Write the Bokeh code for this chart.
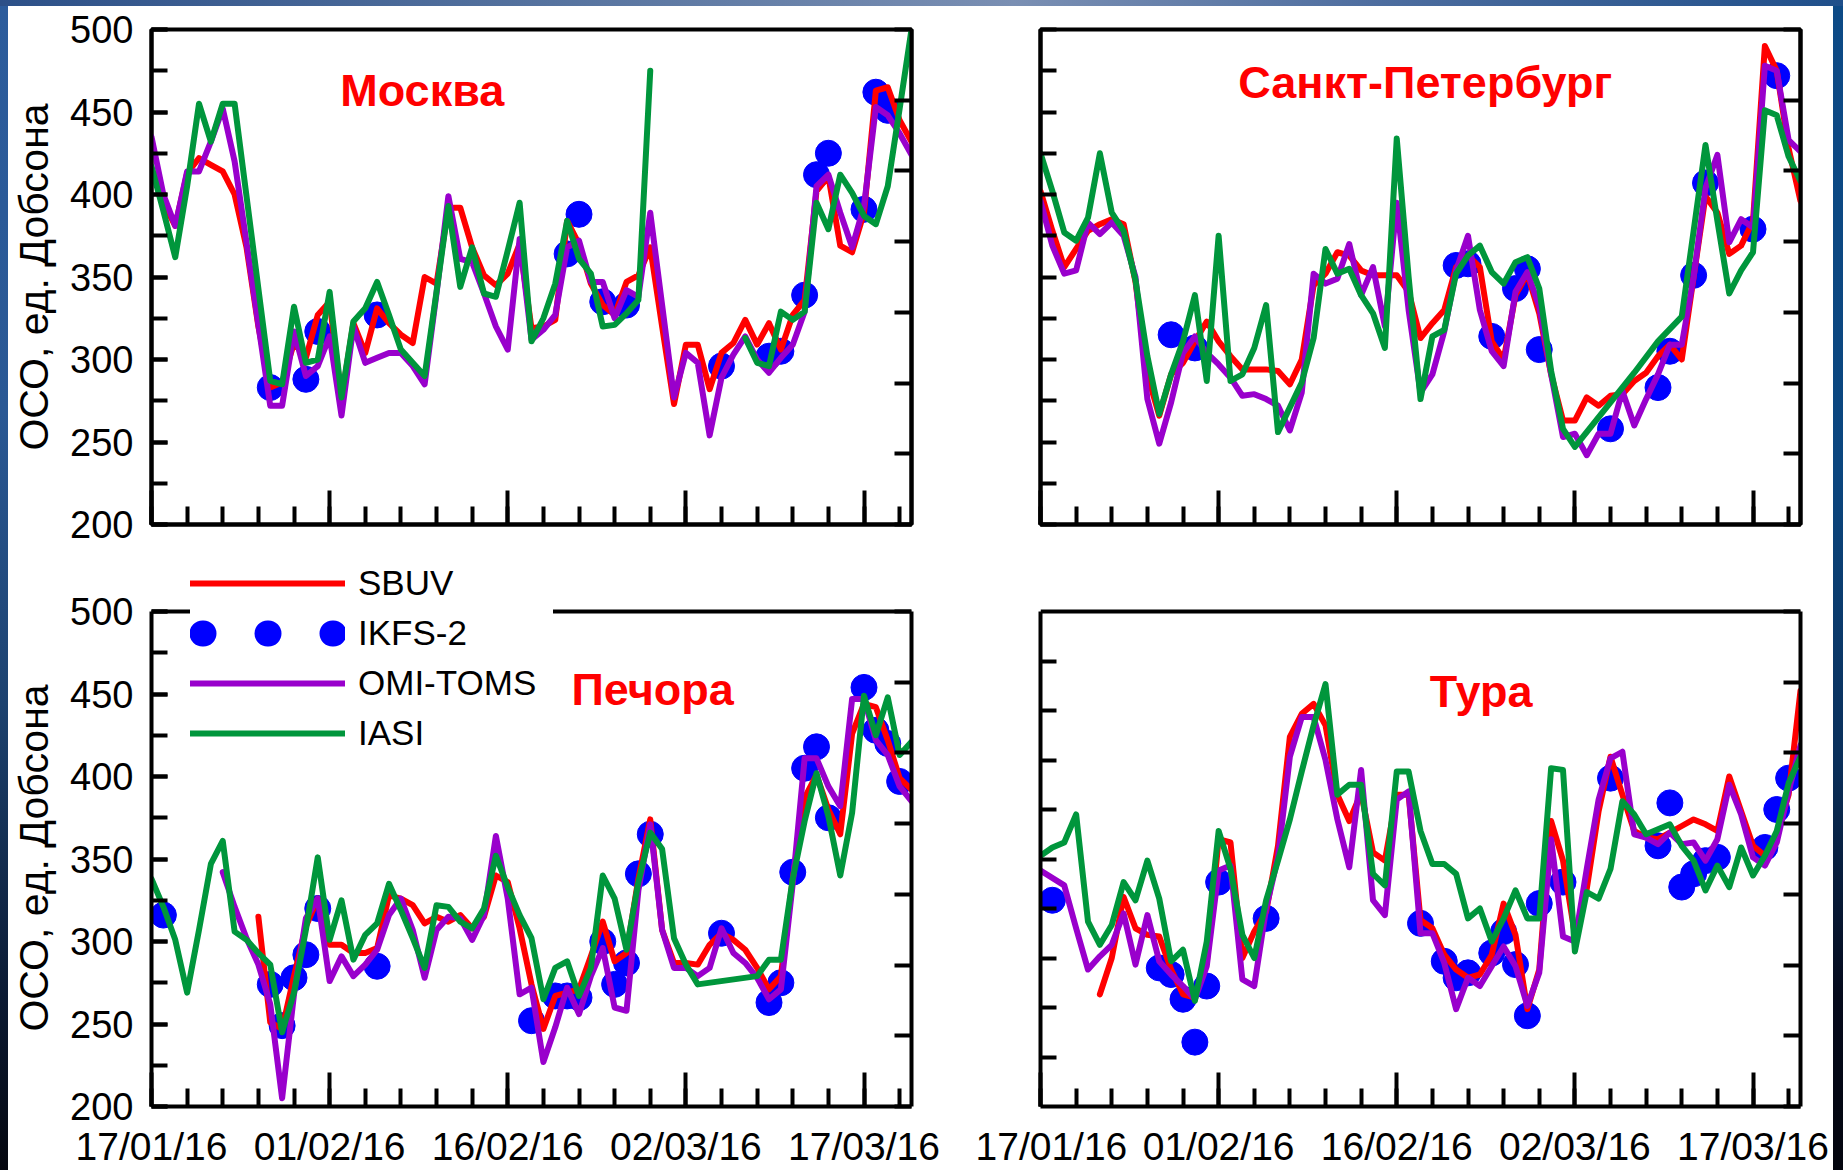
import datetime as dt

from bokeh.embed import file_html
from bokeh.layouts import column, row
from bokeh.models import (DatetimeTickFormatter, FixedTicker, Label, Legend,
                          LegendItem, LinearAxis, Range1d, SingleIntervalTicker,
                          Spacer, Span)
from bokeh.plotting import figure
from bokeh.resources import INLINE

NAN = float("nan")

# ---------------------------------------------------------------- data ----
START = dt.datetime(2016, 1, 17)
END = dt.datetime(2016, 3, 21)

tick_dates = ["2016-01-17", "2016-02-01", "2016-02-16", "2016-03-02", "2016-03-17"]
minor_tick_days = list(range(0, 64, 3))
tura_left_ticks = [230, 260, 290, 320, 350, 380, 410, 440, 470]
y_title = "ОСО, ед. Добсона"
series_names = ["SBUV", "IKFS-2", "OMI-TOMS", "IASI"]

# Москва
msk_sbuv_day = list(range(0, 65))
msk_sbuv = [416, 395, 381, 413, 422, 418, 414, 400, 368, 320,
            283, 286, 310, 301, 327, 335, 276, 322, 304, 331,
            322, 315, 310, 350, 346, 392, 392, 368, 351, 345,
            352, 370, 319, 320, 324, 384, 370, 346, 333, 327,
            347, 351, 368, 320, 273, 309, 309, 282, 304, 310,
            324, 309, 322, 306, 327, 336, 402, 411, 369, 365,
            389, 463, 465, 445, 432]
msk_omi_day = list(range(0, 65))
msk_omi = [435, 400, 381, 414, 414, 432, 452, 420, 371, 321,
           272, 272, 317, 290, 296, 314, 266, 320, 298, 301,
           304, 304, 296, 285, 340, 399, 361, 359, 340, 320,
           306, 373, 312, 318, 327, 368, 372, 347, 347, 325,
           342, 338, 389, 333, 277, 304, 298, 254, 289, 303,
           314, 300, 292, 301, 309, 329, 405, 412, 389, 368,
           393, 453, 448, 437, 424]
# IASI has no retrievals over Moscow between 28/02 and 07/03 (NaN breaks the line)
msk_iasi_day = list(range(0, 43)) + [46] + list(range(50, 65))
msk_iasi = [417, 390, 362, 405, 455, 432, 455, 455, 399, 343,
            287, 285, 332, 298, 300, 341, 277, 323, 331, 347,
            327, 306, 298, 290, 341, 393, 344, 368, 340, 338,
            366, 395, 311, 325, 346, 384, 361, 352, 320, 321,
            328, 336, 475,
            NAN,
            313, 298, 296, 329, 324, 329, 395, 379, 412, 401,
            387, 382, 405, 452, 500]
msk_ikfs_day = [10, 13, 14, 19, 35, 36, 38, 40, 48, 52, 53, 55, 56, 57, 60, 61, 62]
msk_ikfs = [283, 288, 317, 327, 364, 388, 335, 333, 296, 302, 305, 339, 412, 425, 391, 462, 451]

# Санкт-Петербург
spb_sbuv_day = list(range(0, 65))
spb_sbuv = [402, 378, 356, 367, 378, 382, 385, 382, 347, 291,
            266, 291, 298, 311, 323, 311, 302, 294, 294, 294,
            293, 285, 300, 345, 352, 365, 363, 354, 351, 351,
            351, 341, 313, 322, 330, 356, 363, 356, 311, 300,
            339, 352, 328, 291, 263, 263, 277, 272, 278, 279,
            287, 292, 302, 309, 300, 350, 399, 389, 364, 369,
            384, 490, 475, 428, 396]
spb_omi_day = list(range(0, 65))
spb_omi = [396, 369, 352, 354, 383, 376, 383, 375, 350, 276,
           249, 274, 304, 314, 304, 297, 289, 278, 279, 276,
           272, 257, 280, 352, 346, 349, 370, 339, 356, 320,
           395, 330, 280, 291, 317, 354, 375, 330, 305, 296,
           341, 353, 332, 291, 253, 255, 242, 255, 255, 281,
           260, 276, 291, 309, 309, 350, 404, 424, 371, 385,
           380, 478, 475, 433, 426]
spb_iasi_day = list(range(0, 46)) + [48, 50, 52, 54, 55, 56, 57, 58, 59, 60, 61, 62, 63, 64]
spb_iasi = [425, 402, 377, 372, 386, 425, 389, 378, 348, 302,
            267, 291, 311, 339, 287, 375, 287, 291, 307, 333,
            256, 271, 286, 313, 367, 352, 355, 339, 328, 307,
            434, 350, 276, 314, 318, 352, 363, 369, 353, 346,
            359, 362, 343, 293, 258, 247,
            274, 292, 311, 326, 378, 430, 384, 340, 354, 365,
            451, 448, 423, 408]
spb_ikfs_day = [11, 13, 35, 36, 38, 40, 41, 42, 48, 52, 53, 55, 56, 60, 62]
spb_ikfs = [315, 307, 357, 358, 314, 343, 355, 306, 258, 283, 305, 351, 407, 379, 472]

# Печора
pch_sbuv_day = list(range(9, 65))
pch_sbuv = [315, 251, 247, 279, 309, 326, 298, 298, 293, 293,
            296, 328, 326, 322, 311, 315, 312, 316, 308, 315,
            340, 336, 308, 274, 247, 267, 269, 271, 291, 312,
            288, 293, 338, 374, 307, 287, 287, 286, 298, 305,
            301, 295, 284, 271, 279, 338, 387, 401, 380, 365,
            426, 444, 442, 422, 399, 392]
pch_omi_day = list(range(6, 65))
pch_omi = [342, 321, 302, 286, 262, 205, 268, 314, 326, 276,
           291, 279, 286, 295, 316, 326, 307, 278, 307, 315,
           314, 301, 316, 364, 326, 268, 272, 227, 248, 272,
           256, 279, 296, 260, 258, 331, 371, 307, 284, 284,
           279, 284, 308, 293, 287, 278, 265, 271, 335, 411,
           411, 394, 382, 447, 447, 422, 413, 394, 385]
pch_iasi_day = list(range(0, 47)) + list(range(51, 65))
pch_iasi = [338, 321, 301, 269, 307, 347, 361, 306, 301, 293,
            286, 245, 269, 307, 351, 301, 325, 289, 304, 311,
            335, 319, 302, 284, 322, 321, 312, 308, 320, 352,
            333, 316, 302, 265, 284, 288, 267, 284, 340, 326,
            295, 336, 366, 356, 302, 286, 274,
            279, 289, 289, 338, 373, 402, 376, 340, 378, 449,
            425, 448, 413, 421]
pch_ikfs_day = [1, 10, 11, 12, 13, 14, 19, 32, 34, 35, 36, 38, 39, 40, 41, 42,
                48, 52, 53, 54, 55, 56, 57, 60, 61, 62, 63]
pch_ikfs = [316, 274, 249, 278, 292, 320, 285, 252, 267, 267, 266, 300, 274, 287, 341, 365,
            305, 263, 275, 342, 405, 418, 375, 454, 428, 420, 397]

# Тура
tur_sbuv_day = list(range(5, 65))
tur_sbuv = [268, 290, 327, 308, 304, 303, 283, 268, 266, 287,
            362, 360, 290, 306, 318, 358, 424, 438, 444, 431,
            389, 373, 390, 354, 349, 389, 389, 313, 308, 292,
            283, 278, 280, 292, 323, 304, 259, 283, 373, 349,
            304, 332, 379, 412, 389, 367, 363, 362, 366, 370,
            374, 371, 367, 400, 379, 358, 352, 365, 389, 452]
tur_omi_day = [0] + list(range(2, 65))
tur_omi = [343,
           334, 308, 283, 291, 298, 317, 286, 316, 288, 280,
           273, 265, 285, 343, 346, 277, 273, 320, 351, 412,
           436, 436, 410, 374, 345, 404, 325, 316, 386, 391,
           305, 305, 287, 259, 278, 273, 285, 297, 285, 261,
           281, 362, 303, 300, 344, 386, 411, 415, 365, 363,
           359, 366, 359, 360, 349, 362, 395, 377, 351, 346,
           360, 391, 419]
tur_iasi_day = list(range(0, 65))
tur_iasi = [352, 357, 360, 377, 312, 298, 310, 336, 325, 349,
            326, 288, 295, 264, 300, 367, 344, 304, 290, 325,
            349, 374, 403, 431, 456, 389, 395, 395, 341, 334,
            403, 403, 367, 347, 347, 341, 314, 320, 300, 314,
            331, 314, 314, 405, 404, 294, 330, 326, 344, 385,
            377, 365, 368, 371, 358, 349, 331, 346, 333, 357,
            340, 352, 367, 396, 412]
tur_ikfs_day = [1, 10, 11, 12, 13, 14, 15, 19, 32, 34, 35, 36, 38, 39, 40, 41, 42, 44,
                48, 52, 53, 54, 55, 56, 57, 61, 62, 63]
tur_ikfs = [325, 284, 280, 265, 239, 273, 336, 314, 311, 288, 278, 281, 293, 306, 286, 255, 323, 336,
            399, 358, 384, 333, 341, 349, 351, 357, 380, 399]

# --------------------------------------------------------------- style ----
FONT = "Liberation Sans"
RED = "#ff0000"
BLUE = "#0000ff"
PURPLE = "#9900cc"
GREEN = "#00963c"
LINE_W = 6
PLOT_H = 495          # pixel height of the 200..500 band in every panel


def to_dates(days):
    return [START + dt.timedelta(days=float(d)) for d in days]


def date_ms(d):
    return (d - dt.datetime(1970, 1, 1)).total_seconds() * 1000.0


def hide_labels(ax):
    ax.major_label_text_font_size = "0px"
    ax.major_label_text_color = None
    ax.major_label_standoff = 0


def make_panel(width, height, borders, tura_ticks, show_y, show_x,
               title, title_day, title_val, sbuv, omi, iasi, ikfs, extra_top=0):
    """One station panel.  extra_top adds free frame space above 500 (used for the legend)."""
    bl, br, bt, bb = borders
    y_end = 500 + 300.0 * extra_top / PLOT_H
    p = figure(width=width, height=height, x_axis_type="datetime",
               x_range=Range1d(START, END), y_range=Range1d(200, y_end),
               output_backend="svg", toolbar_location=None,
               min_border_left=bl, min_border_right=br,
               min_border_top=bt, min_border_bottom=bb)
    p.grid.visible = False
    p.background_fill_color = "white"
    p.border_fill_color = "white"
    if extra_top:
        p.outline_line_color = None
        p.add_layout(Span(location=500, dimension="width", line_color="black",
                          line_width=4))
    else:
        p.outline_line_color = "black"
        p.outline_line_width = 4

    xa = p.xaxis[0]
    ya = p.yaxis[0]
    for ax in (xa, ya):
        ax.axis_line_width = 4
        ax.major_tick_line_width = 4
        ax.minor_tick_line_width = 4
        ax.major_tick_out = 0
        ax.minor_tick_out = 0
        ax.major_label_text_font = FONT
        ax.major_label_text_color = "black"

    # date axis: long ticks every 15 days, short ticks every 3 days
    xa.ticker = FixedTicker(
        ticks=[date_ms(dt.datetime.fromisoformat(s)) for s in tick_dates],
        minor_ticks=[date_ms(d) for d in to_dates(minor_tick_days)])
    fmt = "%d/%m/%y"
    xa.formatter = DatetimeTickFormatter(days=fmt, months=fmt, years=fmt,
                                         hours=fmt, hourmin=fmt, minutes=fmt)
    xa.major_tick_in = 34
    xa.minor_tick_in = 18
    if show_x:
        xa.major_label_text_font_size = "39px"
        xa.major_label_standoff = 18
    else:
        hide_labels(xa)

    ya.bounds = (200, 500)
    ya.major_tick_in = 16
    ya.minor_tick_in = 16
    if show_y:
        ya.ticker = SingleIntervalTicker(interval=50, num_minor_ticks=2)
        ya.major_label_text_font_size = "38px"
        ya.major_label_standoff = 18
        # the axis title is centred on the whole frame; trailing no-break spaces
        # keep it centred on the 200..500 band when the frame is taller
        ya.axis_label = y_title + "\u00a0" * round(extra_top / 11.4)
        ya.axis_label_text_font = FONT
        ya.axis_label_text_font_size = "41px"
        ya.axis_label_text_font_style = "normal"
        ya.axis_label_text_color = "black"
        ya.axis_label_standoff = 10
    else:
        # unlabelled axis: every tick is drawn as a minor tick
        if tura_ticks:
            ya.ticker = FixedTicker(ticks=[], minor_ticks=tura_left_ticks)
        else:
            ya.ticker = FixedTicker(ticks=[], minor_ticks=list(range(200, 501, 25)))
        hide_labels(ya)

    # right-hand axis with its own 7-step scale, ticks only
    r_end = 7 + 7.0 * extra_top / PLOT_H
    p.extra_y_ranges = {"right": Range1d(0, r_end)}
    ra = LinearAxis(y_range_name="right",
                    ticker=FixedTicker(ticks=[], minor_ticks=list(range(0, 8))))
    ra.bounds = (0, 7)
    ra.axis_line_width = 4
    ra.minor_tick_line_width = 4
    ra.minor_tick_in = 17
    ra.minor_tick_out = 0
    ra.major_tick_line_color = None
    hide_labels(ra)
    p.add_layout(ra, "right")

    p.scatter(to_dates(ikfs[0]), ikfs[1], size=26, color=BLUE)
    r_sbuv = p.line(to_dates(sbuv[0]), sbuv[1], line_color=RED, line_width=LINE_W,
                    line_join="round", line_cap="round")
    r_omi = p.line(to_dates(omi[0]), omi[1], line_color=PURPLE, line_width=LINE_W,
                   line_join="round", line_cap="round")
    r_iasi = p.line(to_dates(iasi[0]), iasi[1], line_color=GREEN, line_width=LINE_W,
                    line_join="round", line_cap="round")

    p.add_layout(Label(x=START + dt.timedelta(days=title_day), y=title_val, text=title,
                       text_color=RED, text_font=FONT, text_font_style="bold",
                       text_font_size="45px", text_align="center",
                       text_baseline="middle"))
    return p, (r_sbuv, r_omi, r_iasi)


# ---------------------------------------------------------------- layout --
LEFT_W, RIGHT_W = 967, 858
TOP_H, BOT_H = 542, 622
EXTRA = 59            # frame space above the 500 line in the lower row (legend room)

p_msk, _ = make_panel(LEFT_W, TOP_H, (141, 64, 23, 24), False, True, False,
                      "Москва", 22.8, 463,
                      (msk_sbuv_day, msk_sbuv), (msk_omi_day, msk_omi),
                      (msk_iasi_day, msk_iasi), (msk_ikfs_day, msk_ikfs))
p_spb, _ = make_panel(RIGHT_W, TOP_H, (65, 33, 23, 24), False, False, False,
                      "Санкт-Петербург", 32.4, 468,
                      (spb_sbuv_day, spb_sbuv), (spb_omi_day, spb_omi),
                      (spb_iasi_day, spb_iasi), (spb_ikfs_day, spb_ikfs))
p_pch, pch_r = make_panel(LEFT_W, BOT_H, (141, 64, 4, 64), False, True, True,
                          "Печора", 42.2, 453,
                          (pch_sbuv_day, pch_sbuv), (pch_omi_day, pch_omi),
                          (pch_iasi_day, pch_iasi), (pch_ikfs_day, pch_ikfs),
                          extra_top=EXTRA)
p_tur, _ = make_panel(RIGHT_W, BOT_H, (65, 33, 4, 64), True, False, True,
                      "Тура", 37.1, 451.5,
                      (tur_sbuv_day, tur_sbuv), (tur_omi_day, tur_omi),
                      (tur_iasi_day, tur_iasi), (tur_ikfs_day, tur_ikfs),
                      extra_top=EXTRA)

# legend: the satellite points are shown as three dots (round-capped dotted stroke);
# the stand-in renderer holds a single NaN point so nothing is drawn in the plot itself
r_dots = p_pch.line([START], [NAN], line_color=BLUE, line_width=26, line_dash="1 64",
                    line_dash_offset=53, line_cap="round")
legend = Legend(
    items=[LegendItem(label=series_names[0], renderers=[pch_r[0]]),
           LegendItem(label=series_names[1], renderers=[r_dots]),
           LegendItem(label=series_names[2], renderers=[pch_r[1]]),
           LegendItem(label=series_names[3], renderers=[pch_r[2]])],
    location=(39, 353), orientation="vertical",
    glyph_width=155, glyph_height=40, label_height=40, label_width=195,
    label_standoff=13, spacing=10, padding=15, margin=0,
    label_text_font=FONT, label_text_font_size="35px", label_text_color="black",
    background_fill_color="white", background_fill_alpha=1.0,
    border_line_color=None)
p_pch.add_layout(legend)

top_strip = Spacer(width=1843, height=6, styles={
    "background": "linear-gradient(90deg, #2c5088 0%, #56739f 30%, #7a8fb3 55%, #4d6d9f 75%, #1f4f8a 100%)"})
left_strip = Spacer(width=8, height=1164, styles={
    "background": "linear-gradient(180deg, #2c5c9c 0%, #2a5894 35%, #1d426f 60%, #0b1a33 85%, #05070f 100%)"})
right_strip = Spacer(width=10, height=1164, styles={
    "background": "linear-gradient(180deg, #0d4a86 0%, #0b467f 40%, #0a2f5a 65%, #050a1c 85%, #03050e 100%)"})

grid = column(row(p_msk, p_spb), row(p_pch, p_tur))
page = column(top_strip, row(left_strip, grid, right_strip))

open("out.html", "w").write(file_html(page, INLINE))
